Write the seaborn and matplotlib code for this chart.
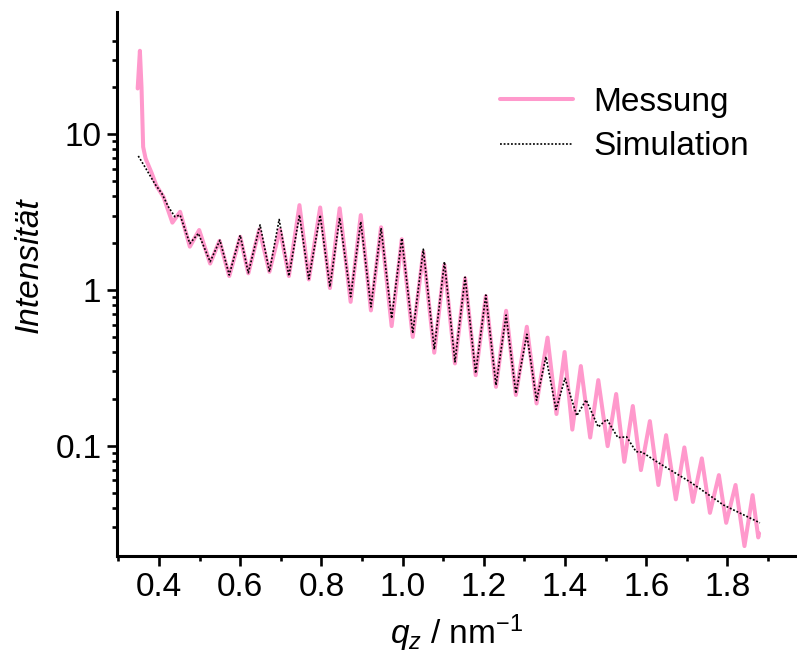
import numpy as np
import pandas as pd
import matplotlib
matplotlib.use("Agg")
import matplotlib.pyplot as plt
import matplotlib.ticker as mticker
import seaborn as sns

# ---- data ----
q_mess = [0.3475, 0.353, 0.357, 0.361, 0.367, 0.382, 0.394, 0.411, 0.433, 0.452,
          0.476, 0.499, 0.526, 0.549, 0.573, 0.600, 0.620, 0.647, 0.672, 0.698,
          0.720, 0.746, 0.769, 0.797, 0.821, 0.845, 0.872, 0.897, 0.922, 0.947,
          0.973, 0.998, 1.025, 1.051, 1.078, 1.103, 1.129, 1.154, 1.180, 1.205,
          1.230, 1.255, 1.279, 1.306, 1.330, 1.357, 1.379, 1.399, 1.418, 1.439,
          1.462, 1.482, 1.505, 1.526, 1.546, 1.567, 1.587, 1.609, 1.630, 1.649,
          1.673, 1.694, 1.715, 1.737, 1.757, 1.779, 1.797, 1.820, 1.842, 1.862,
          1.876, 1.878]
i_mess = [19.7, 34.4, 20.0, 8.3, 7.0, 5.64, 4.66, 3.97, 2.71, 3.18,
          1.90, 2.43, 1.48, 2.07, 1.23, 2.20, 1.28, 2.45, 1.31, 2.45,
          1.23, 3.51, 1.17, 3.39, 1.03, 3.35, 0.84, 3.03, 0.74, 2.53,
          0.587, 2.12, 0.50, 1.76, 0.396, 1.45, 0.338, 1.19, 0.284, 0.915,
          0.239, 0.736, 0.212, 0.581, 0.187, 0.495, 0.16, 0.40, 0.127, 0.325,
          0.113, 0.264, 0.0995, 0.215, 0.0789, 0.18, 0.0698, 0.144, 0.056, 0.117,
          0.0453, 0.0976, 0.0436, 0.083, 0.0371, 0.0648, 0.032, 0.056, 0.0227, 0.0482,
          0.0258, 0.0274]

q_sim = [0.349, 0.365, 0.390, 0.407, 0.423, 0.439, 0.452, 0.476, 0.497, 0.526,
         0.550, 0.573, 0.600, 0.620, 0.649, 0.672, 0.696, 0.720, 0.746, 0.769,
         0.797, 0.821, 0.845, 0.872, 0.897, 0.922, 0.947, 0.973, 0.998, 1.025,
         1.051, 1.078, 1.103, 1.129, 1.154, 1.180, 1.205, 1.230, 1.255, 1.279,
         1.306, 1.330, 1.353, 1.378, 1.400, 1.429, 1.452, 1.482, 1.503, 1.530,
         1.552, 1.575, 1.590, 1.626, 1.708, 1.790, 1.880]
i_sim = [7.26, 6.2, 4.8, 4.17, 3.43, 2.96, 3.03, 1.99, 2.31, 1.52,
         2.09, 1.25, 2.25, 1.29, 2.62, 1.31, 2.84, 1.23, 3.03, 1.18,
         3.03, 1.05, 2.91, 0.906, 2.75, 0.78, 2.50, 0.658, 2.15, 0.527,
         1.83, 0.416, 1.52, 0.346, 1.21, 0.292, 0.929, 0.245, 0.691, 0.217,
         0.52, 0.196, 0.373, 0.171, 0.271, 0.156, 0.197, 0.132, 0.148, 0.113,
         0.114, 0.0917, 0.091, 0.079, 0.0586, 0.0417, 0.032]

x_ticks = [0.4, 0.6, 0.8, 1.0, 1.2, 1.4, 1.6, 1.8]
y_ticks = [0.1, 1, 10]
y_tick_labels = ["0.1", "1", "10"]
series_names = ["Messung", "Simulation"]

df_mess = pd.DataFrame({"q": q_mess, "I": i_mess})
df_sim = pd.DataFrame({"q": q_sim, "I": i_sim})

# ---- style ----
sns.set_theme(style="ticks")
plt.rcParams["font.family"] = ["Liberation Sans", "DejaVu Sans"]
plt.rcParams["mathtext.fontset"] = "custom"
plt.rcParams["mathtext.rm"] = "Liberation Sans"
plt.rcParams["mathtext.it"] = "Liberation Sans:italic"
for key in ["text.color", "axes.labelcolor", "xtick.color", "ytick.color",
            "axes.edgecolor", "legend.labelcolor"]:
    plt.rcParams[key] = "black"

fig = plt.figure(figsize=(7.97, 6.59), dpi=100)
ax = fig.add_axes([117/797, 1 - 556/659, (797 - 117)/797, (556 - 11.7)/659])

pink = "#ff99cc"
sns.lineplot(data=df_mess, x="q", y="I", ax=ax, sort=False, estimator=None,
             color=pink, lw=2.9, label=series_names[0])
sns.lineplot(data=df_sim, x="q", y="I", ax=ax, sort=False, estimator=None,
             color="black", lw=1.2, linestyle=(0, (1.1, 1.1)), label=series_names[1])
for ln in ax.get_lines():
    ln.set_solid_joinstyle("round")
    ln.set_solid_capstyle("round")

ax.set_yscale("log")
ax.set_xlim(0.2966, 1.9714)
ax.set_ylim(0.0196, 61.3)

ax.set_xticks(x_ticks)
ax.set_xticklabels([f"{v:.1f}" for v in x_ticks])
ax.xaxis.set_minor_locator(mticker.MultipleLocator(0.1))
ax.set_yticks(y_ticks)
ax.set_yticklabels(y_tick_labels)
minor_y = [0.03, 0.04, 0.05, 0.06, 0.07, 0.08, 0.09,
           0.2, 0.3, 0.4, 0.5, 0.6, 0.7, 0.8, 0.9,
           2, 3, 4, 5, 6, 7, 8, 9, 20, 30, 40]
ax.yaxis.set_minor_locator(mticker.FixedLocator(minor_y))
ax.yaxis.set_minor_formatter(mticker.NullFormatter())

for s in ["top", "right"]:
    ax.spines[s].set_visible(False)
for s in ["left", "bottom"]:
    ax.spines[s].set_linewidth(2.2)
    ax.spines[s].set_color("black")

ax.tick_params(which="major", direction="out", length=7.2, width=1.9,
               labelsize=24, colors="black", pad=4)
ax.tick_params(which="minor", direction="out", length=3.6, width=1.9, colors="black")

ax.set_xlabel(r"$q_z$ / nm$^{\mathregular{-1}}$", fontsize=24, labelpad=7)
ax.set_ylabel("Intensität", fontsize=24, fontstyle="italic", labelpad=8)
ax.yaxis.label.set_y(0.535)

leg = ax.legend(loc="upper left", bbox_to_anchor=(500/797, 1 - 87/659),
                bbox_transform=fig.transFigure, frameon=False, fontsize=24,
                handlelength=2.2, handletextpad=0.6, labelspacing=0.4,
                borderpad=0, borderaxespad=0)
for t in leg.get_texts():
    t.set_color("black")

fig.savefig("out.png", dpi=100)
